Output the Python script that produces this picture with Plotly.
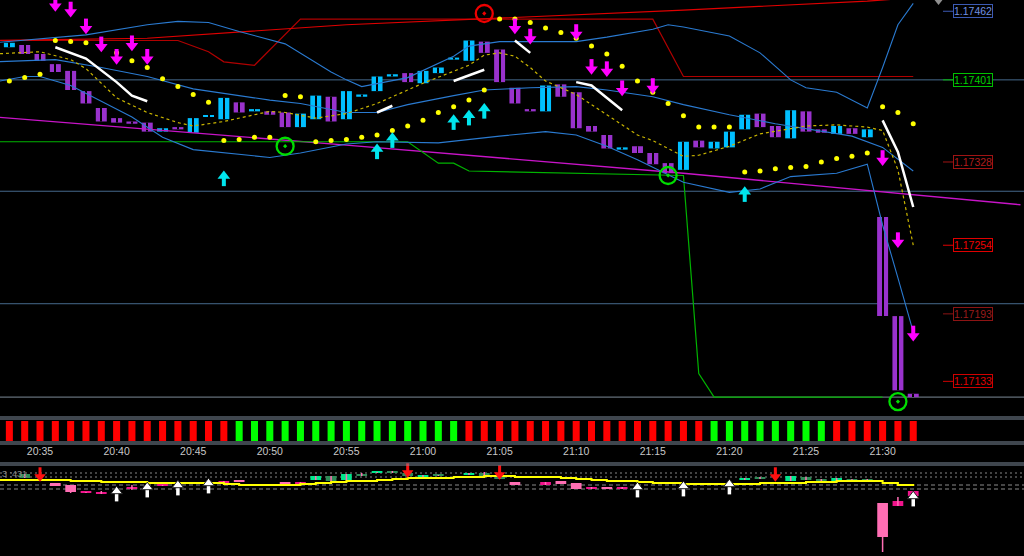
import plotly.graph_objects as go
import pandas as pd

DAY = "2024-01-01 "

# ---------------- main price panel data ----------------
candle_times = [str(t) for t in pd.date_range(DAY + "20:33", periods=60, freq="1min")]
opens = [1.17430, 1.17432, 1.17424, 1.17415, 1.17409, 1.17391, 1.17376, 1.17367, 1.17364, 1.17363,
         1.17355, 1.17359, 1.17354, 1.17368, 1.17366, 1.17381, 1.17373, 1.17373, 1.17372, 1.17359,
         1.17366, 1.17386, 1.17366, 1.17386, 1.17391, 1.17404, 1.17407, 1.17398, 1.17407, 1.17419,
         1.17418, 1.17435, 1.17428, 1.17394, 1.17375, 1.17373, 1.17397, 1.17390, 1.17360, 1.17352,
         1.17339, 1.17342, 1.17336, 1.17327, 1.17321, 1.17347, 1.17340, 1.17341, 1.17357, 1.17371,
         1.17360, 1.17349, 1.17373, 1.17357, 1.17353, 1.17358, 1.17350, 1.17279, 1.17191, 1.17122]
closes = [1.17434, 1.17424, 1.17418, 1.17408, 1.17392, 1.17380, 1.17364, 1.17363, 1.17362, 1.17355,
          1.17358, 1.17357, 1.17367, 1.17369, 1.17385, 1.17372, 1.17375, 1.17370, 1.17359, 1.17371,
          1.17387, 1.17364, 1.17391, 1.17388, 1.17404, 1.17406, 1.17399, 1.17409, 1.17412, 1.17420,
          1.17436, 1.17425, 1.17399, 1.17380, 1.17373, 1.17396, 1.17386, 1.17358, 1.17355, 1.17340,
          1.17341, 1.17336, 1.17326, 1.17318, 1.17346, 1.17341, 1.17346, 1.17355, 1.17370, 1.17359,
          1.17350, 1.17374, 1.17355, 1.17354, 1.17360, 1.17353, 1.17357, 1.17191, 1.17125, 1.17119]
sar = [1.17400, 1.17403, 1.17406, 1.17436, 1.17435, 1.17434, 1.17430, 1.17425, 1.17418, 1.17412,
       1.17402, 1.17395, 1.17388, 1.17381, 1.17347, 1.17348, 1.17350, 1.17350, 1.17387, 1.17386,
       1.17346, 1.17347, 1.17348, 1.17350, 1.17352, 1.17356, 1.17360, 1.17365, 1.17372, 1.17377,
       1.17383, 1.17392, 1.17455, 1.17455, 1.17452, 1.17447, 1.17443, 1.17438, 1.17431, 1.17424,
       1.17413, 1.17400, 1.17390, 1.17380, 1.17369, 1.17359, 1.17359, 1.17359, 1.17319, 1.17320,
       1.17322, 1.17323, 1.17324, 1.17328, 1.17331, 1.17333, 1.17336, 1.17377, 1.17372, 1.17362]

upper_t = ["20:32", "20:38", "20:42", "20:44", "20:46", "20:48", "20:51", "20:54", "20:55", "20:56",
           "20:59", "21:02", "21:03", "21:05", "21:10", "21:12", "21:15", "21:16", "21:17", "21:20",
           "21:22", "21:24", "21:25", "21:27", "21:29", "21:30", "21:31", "21:32"]
upper_v = [1.17434, 1.17441, 1.17450, 1.17453, 1.17452, 1.17444, 1.17433, 1.17408, 1.17401, 1.17395,
           1.17403, 1.17422, 1.17431, 1.17435, 1.17435, 1.17439, 1.17446, 1.17450, 1.17448, 1.17440,
           1.17425, 1.17401, 1.17394, 1.17390, 1.17376, 1.17412, 1.17450, 1.17469]
middle_t = ["20:32", "20:36", "20:39", "20:42", "20:45", "20:50", "20:52", "20:55", "20:57", "20:59",
            "21:02", "21:04", "21:07", "21:10", "21:12", "21:15", "21:17", "21:20", "21:23", "21:26",
            "21:28", "21:30", "21:32"]
middle_v = [1.17417, 1.17419, 1.17412, 1.17404, 1.17393, 1.17383, 1.17380, 1.17372, 1.17372, 1.17379,
            1.17387, 1.17392, 1.17394, 1.17395, 1.17392, 1.17386, 1.17379, 1.17370, 1.17362, 1.17355,
            1.17351, 1.17341, 1.17320]
lower_t = ["20:32", "20:34", "20:35", "20:37", "20:41", "20:43", "20:45", "20:50", "20:52", "20:55",
           "20:57", "21:01", "21:05", "21:08", "21:10", "21:12", "21:14", "21:16", "21:17", "21:20",
           "21:22", "21:24", "21:27", "21:29", "21:30", "21:31", "21:32"]
lower_v = [1.17399, 1.17404, 1.17404, 1.17396, 1.17368, 1.17350, 1.17339, 1.17332, 1.17336, 1.17344,
           1.17346, 1.17345, 1.17351, 1.17355, 1.17352, 1.17342, 1.17330, 1.17317, 1.17310, 1.17301,
           1.17304, 1.17315, 1.17318, 1.17326, 1.17272, 1.17225, 1.17177]
ma_t = ["20:32", "20:35", "20:37", "20:38", "20:40", "20:42", "20:44", "20:45", "20:47", "20:50",
        "20:51", "20:53", "20:55", "20:57", "21:00", "21:03", "21:04", "21:05", "21:06", "21:07",
        "21:08", "21:10", "21:12", "21:14", "21:15", "21:16", "21:17", "21:18", "21:20", "21:22",
        "21:24", "21:25", "21:27", "21:29", "21:30", "21:31", "21:32"]
ma_v = [1.17424, 1.17426, 1.17419, 1.17411, 1.17385, 1.17372, 1.17363, 1.17360, 1.17364, 1.17373,
        1.17372, 1.17367, 1.17371, 1.17380, 1.17398, 1.17414, 1.17423, 1.17425, 1.17422, 1.17412,
        1.17400, 1.17388, 1.17370, 1.17352, 1.17347, 1.17340, 1.17333, 1.17334, 1.17342, 1.17353,
        1.17358, 1.17360, 1.17361, 1.17359, 1.17356, 1.17321, 1.17254]
red_hi_t = ["20:32", "20:42", "20:55", "21:17", "21:29", "21:32"]
red_hi_v = [1.17436, 1.17438, 1.17450, 1.17463, 1.17471, 1.17474]
red_lo_t = ["20:32", "20:44", "20:46", "20:47", "20:49", "20:52", "21:15", "21:17", "21:32"]
red_lo_v = [1.17436, 1.17436, 1.17426, 1.17417, 1.17414, 1.17455, 1.17455, 1.17404, 1.17404]
green_t = ["20:32", "20:59", "21:01", "21:02", "21:03", "21:17", "21:18", "21:19", "21:30"]
green_v = [1.17346, 1.17346, 1.17327, 1.17327, 1.17320, 1.17316, 1.17140, 1.17119, 1.17119]
trend_t = ["20:32", "20:55", "21:17", "21:39"]
trend_v = [1.17368, 1.17343, 1.17318, 1.17290]
white_segments = [
    (["20:36", "20:38", "20:40", "20:41", "20:42"], [1.17430, 1.17420, 1.17399, 1.17387, 1.17382]),
    (["20:57", "20:58"], [1.17372, 1.17378]),
    (["21:02", "21:04"], [1.17400, 1.17410]),
    (["21:06", "21:07"], [1.17436, 1.17425]),
    (["21:10", "21:11", "21:13"], [1.17399, 1.17396, 1.17374]),
    (["21:30", "21:31", "21:32"], [1.17365, 1.17337, 1.17288]),
]
down_arrow_t = ["20:36", "20:37", "20:38", "20:39", "20:40", "20:41", "20:42", "21:06", "21:07", "21:10",
                "21:11", "21:12", "21:13", "21:15", "21:30", "21:31", "21:32"]
down_arrow_v = [1.17468, 1.17463, 1.17448, 1.17432, 1.17421, 1.17433, 1.17421, 1.17448, 1.17439, 1.17443,
                1.17412, 1.17410, 1.17393, 1.17395, 1.17331, 1.17258, 1.17175]
up_arrow_t = ["20:47", "20:57", "20:58", "21:02", "21:03", "21:04", "21:21"]
up_arrow_v = [1.17314, 1.17338, 1.17348, 1.17364, 1.17368, 1.17374, 1.17300]
green_circle_t = ["20:51", "21:16", "21:31"]
green_circle_v = [1.17342, 1.17316, 1.17115]
red_circle_t = ["21:04"]
red_circle_v = [1.17460]
grid_levels = [1.17401, 1.17302, 1.17202]
bid_level = 1.17119
label_prices = [1.17462, 1.17401, 1.17328, 1.17254, 1.17193, 1.17133]
label_text_colors = ["#7090e0", "#00d000", "#b01c1c", "#f00000", "#9a1c1c", "#e00000"]
label_border_colors = ["#3c5ab4", "#00c000", "#a01414", "#e00000", "#8c1414", "#d00000"]

# ---------------- trend strip ----------------
strip_state = list("RRRRRRRRRRRRRRR" + "GGGGGGGGGGGGGGG" + "RRRRRRRRRRRRRRRR" + "GGGGGGGG" + "RRRRRR")

# ---------------- time labels ----------------
time_ticks = ["20:35", "20:40", "20:45", "20:50", "20:55", "21:00", "21:05",
              "21:10", "21:15", "21:20", "21:25", "21:30"]

# ---------------- oscillator panel ----------------
osc_t = ["20:34", "20:36", "20:37", "20:38", "20:39", "20:41", "20:43", "20:47", "20:48", "20:51",
         "20:52", "20:53", "20:54", "20:55", "20:56", "20:57", "20:58", "20:59", "21:00", "21:01",
         "21:03", "21:04", "21:05", "21:06", "21:08", "21:09", "21:10", "21:11", "21:12", "21:13",
         "21:21", "21:22", "21:24", "21:25", "21:26", "21:27", "21:28", "21:29", "21:30", "21:31",
         "21:32"]
osc_open = [2, -3, -5, -12, -13, -7, -5, -1, -1, -2, -2, 0, -1, 0, 4, 7, 7, 4, 3, 4,
            5, 4, 1, -2, -2, -1, -3, -7, -8, -7, 0, 1, -1, 0, -1, -1, -1, -1, -23, -21, -11]
osc_close = [6, -6, -12, -13, -14, -9, -6, -3, -2, -4, -4, 4, 4, 6, 6, 8, 8, 7, 5, 5,
             7, 7, 3, -5, -5, -4, -9, -9, -9, -9, 2, 3, 4, 3, 1, 2, 1, 1, -57, -26, -16]
osc_high = [6, -3, -5, -12, -11, -5, -5, -1, -1, -2, -2, 4, 4, 6, 7, 8, 9, 7, 5, 5,
            7, 8, 3, -2, -2, -1, -3, -7, -8, -7, 2, 3, 4, 3, 1, 2, 1, 1, -23, -17, -11]
osc_low = [2, -6, -13, -13, -14, -10, -6, -3, -2, -4, -4, 0, -1, 0, 4, 7, 7, 4, 3, 4,
           5, 4, 1, -5, -5, -4, -9, -9, -9, -9, 0, 1, -1, 0, -1, -1, -1, -1, -72, -26, -16]
osc_bright = [0, 1, 1, 0, 0, 0, 0, 0, 1, 1, 0, 1, 0, 1, 0, 1, 0, 0, 1, 0,
              1, 0, 0, 1, 0, 1, 1, 0, 1, 0, 1, 0, 1, 0, 0, 1, 0, 0, 1, 0, 0]
osc_ma_t = ["20:32", "20:37", "20:39", "20:42", "20:47", "20:48", "20:52", "20:53", "20:54", "20:55",
            "20:57", "20:58", "20:59", "21:02", "21:04", "21:06", "21:09", "21:10", "21:11", "21:12",
            "21:14", "21:15", "21:17", "21:22", "21:25", "21:27", "21:30", "21:31", "21:32"]
osc_ma_v = [0, -1, -2, -3, -4, -5, -4, -3, -2, -1, 0, 1, 2, 3, 4, 3, 2, 1, 0, -1,
            -2, -3, -4, -3, -2, -1, -3, -5, -6]
osc_up_t = ["20:40", "20:42", "20:44", "20:46", "21:14", "21:17", "21:20", "21:32"]
osc_up_v = [-13, -9, -7, -5, -9, -8, -6, -18]
osc_dn_t = ["20:35", "20:59", "21:05", "21:23"]
osc_dn_v = [5, 9, 7, 5]
osc_levels_dot = [7, 3]
osc_levels_dash = [-5, -9]


def tt(lst):
    return [DAY + s for s in lst]


W, H = 1024, 556
Y_MIN, Y_MAX = 1.171022, 1.17472
MAIN_PX = 416
PRICE_PER_PX = (Y_MAX - Y_MIN) / MAIN_PX
OSC_PER_PX = 1.0


def py(pix):  # pixel row -> paper fraction
    return 1 - pix / H


BLUE = "#2a7ad0"
fig = go.Figure()


def add_arrows(xs, vs, color, down, unit, xa, ya, head=11, stem=7, stem_w=4, outline=None):
    sgn = -1 if down else 1
    head_y = [v + sgn * 1.8 * unit for v in vs]
    stem_y = [v - sgn * 3.5 * unit for v in vs]
    fig.add_trace(go.Scatter(x=xs, y=stem_y, mode="markers", xaxis=xa, yaxis=ya, cliponaxis=False,
                             marker=dict(symbol="line-ns", size=stem,
                                         line=dict(color=color, width=stem_w))))
    fig.add_trace(go.Scatter(x=xs, y=head_y, mode="markers", xaxis=xa, yaxis=ya, cliponaxis=False,
                             marker=dict(symbol="triangle-down" if down else "triangle-up", size=head,
                                         color=color,
                                         line=dict(color=outline or color, width=1 if outline else 0))))


# candles (main)
base = [min(o, c) for o, c in zip(opens, closes)]
hgt = [max(abs(c - o), 0.000018) for o, c in zip(opens, closes)]
ccol = ["#00bfff" if c >= o else "#9932cc" for o, c in zip(opens, closes)]
fig.add_trace(go.Bar(x=candle_times, y=hgt, base=base, width=43000,
                     marker=dict(color=ccol, line=dict(width=0)), xaxis="x", yaxis="y"))
fig.add_trace(go.Bar(x=candle_times, y=hgt, base=base, width=3800,
                     marker=dict(color="black", line=dict(width=0)), xaxis="x", yaxis="y"))

# lines
fig.add_trace(go.Scatter(x=tt(trend_t), y=trend_v, mode="lines", line=dict(color="#c814c8", width=1.3)))
fig.add_trace(go.Scatter(x=tt(green_t), y=green_v, mode="lines", line=dict(color="#00b400", width=1.2)))
fig.add_trace(go.Scatter(x=tt(red_lo_t), y=red_lo_v, mode="lines", line=dict(color="#b00000", width=1.2)))
fig.add_trace(go.Scatter(x=tt(red_hi_t), y=red_hi_v, mode="lines", line=dict(color="#e00000", width=1.2)))
for tl, vl in [(upper_t, upper_v), (middle_t, middle_v), (lower_t, lower_v)]:
    fig.add_trace(go.Scatter(x=tt(tl), y=vl, mode="lines", line=dict(color=BLUE, width=1.1)))
fig.add_trace(go.Scatter(x=tt(ma_t), y=ma_v, mode="lines",
                         line=dict(color="#c8b400", width=1.2, dash="3px,3px")))
for tl, vl in white_segments:
    fig.add_trace(go.Scatter(x=tt(tl), y=vl, mode="lines", line=dict(color="white", width=2.5)))

# SAR dots
fig.add_trace(go.Scatter(x=candle_times, y=sar, mode="markers",
                         marker=dict(color="#ffff00", size=5, symbol="circle")))
# arrows
add_arrows(tt(down_arrow_t), down_arrow_v, "#ff00ff", True, PRICE_PER_PX, "x", "y")
add_arrows(tt(up_arrow_t), up_arrow_v, "#00e5ee", False, PRICE_PER_PX, "x", "y")
# circles
fig.add_trace(go.Scatter(x=tt(green_circle_t), y=green_circle_v, mode="markers",
                         marker=dict(symbol="circle-open-dot", size=17, color="#00dd00", line=dict(width=2.3))))
fig.add_trace(go.Scatter(x=tt(red_circle_t), y=red_circle_v, mode="markers",
                         marker=dict(symbol="circle-open-dot", size=17, color="#ee0000", line=dict(width=2.3))))
fig.add_trace(go.Scatter(x=[DAY + "21:33:39"], y=[1.17471], mode="markers",
                         marker=dict(symbol="triangle-down", size=8, color="#909090"), cliponaxis=False))

# strip
scol = ["#ff0000" if s == "R" else "#00ff00" for s in strip_state]
fig.add_trace(go.Bar(x=candle_times, y=[1] * len(strip_state), base=0, width=27500,
                     marker=dict(color=scol, line=dict(width=0)), xaxis="x2", yaxis="y2"))

# oscillator
obase = [min(o, c) for o, c in zip(osc_open, osc_close)]
ohgt = [max(abs(c - o), 1.3) for o, c in zip(osc_open, osc_close)]
ocol = []
for o, c, b in zip(osc_open, osc_close, osc_bright):
    if c >= o:
        ocol.append("#00e68c" if b else "#2e8b57")
    else:
        ocol.append("#ff6eb4" if b else "#f0148c")
wx, wy = [], []
for t, hi, lo in zip(osc_t, osc_high, osc_low):
    wx += [DAY + t, DAY + t, None]
    wy += [hi, lo, None]
fig.add_trace(go.Scatter(x=wx, y=wy, mode="lines", line=dict(color="#ff6eb4", width=1.5),
                         xaxis="x3", yaxis="y3"))
fig.add_trace(go.Bar(x=tt(osc_t), y=ohgt, base=obase, width=42000,
                     marker=dict(color=ocol, line=dict(width=0)), xaxis="x3", yaxis="y3"))
fig.add_trace(go.Scatter(x=tt(osc_ma_t), y=osc_ma_v, mode="lines", line=dict(color="#ffff00", width=2, shape="hv"),
                         xaxis="x3", yaxis="y3"))
add_arrows(tt(osc_up_t), osc_up_v, "white", False, OSC_PER_PX, "x3", "y3",
           head=10, stem=7, stem_w=3.5, outline="#202020")
add_arrows(tt(osc_dn_t), osc_dn_v, "#ff1010", True, OSC_PER_PX, "x3", "y3",
           head=10, stem=6, stem_w=3)

shapes = []
for lv in grid_levels:
    shapes.append(dict(type="line", xref="paper", yref="y", x0=0, x1=1, y0=lv, y1=lv,
                       line=dict(color="#46698c", width=1), layer="below"))
shapes.append(dict(type="line", xref="paper", yref="y", x0=0, x1=1, y0=bid_level, y1=bid_level,
                   line=dict(color="#7d8a98", width=1), layer="below"))
for pix in [417, 419, 442, 444, 463, 465]:
    shapes.append(dict(type="line", xref="paper", yref="paper", x0=0, x1=1, y0=py(pix), y1=py(pix),
                       line=dict(color="#7f8c9c", width=1)))
for lv in osc_levels_dot:
    shapes.append(dict(type="line", xref="paper", yref="y3", x0=0, x1=1, y0=lv, y1=lv,
                       line=dict(color="#5a5a5a", width=1.5, dash="2px,3px"), layer="below"))
for lv in osc_levels_dash:
    shapes.append(dict(type="line", xref="paper", yref="y3", x0=0, x1=1, y0=lv, y1=lv,
                       line=dict(color="#8a8a8a", width=1, dash="4px,3px"), layer="below"))

annotations = []
for p, tc, bc in zip(label_prices, label_text_colors, label_border_colors):
    shapes.append(dict(type="line", xref="paper", yref="y", x0=943 / W, x1=953 / W, y0=p, y1=p,
                       line=dict(color=bc, width=1)))
    annotations.append(dict(x=973 / W, xref="paper", y=p, yref="y", text=f"{p:.5f}", showarrow=False,
                            font=dict(family="Liberation Sans", size=10.5, color=tc),
                            bordercolor=bc, borderwidth=1, borderpad=0, bgcolor="black",
                            xanchor="center", yanchor="middle"))
annotations.append(dict(x=0, xref="paper", y=6, yref="y3", text="3 :431", showarrow=False,
                        font=dict(family="Liberation Sans", size=9, color="#8a8a8a"),
                        xanchor="left", yanchor="middle"))

xr = [DAY + "20:32:23.3", DAY + "21:39:13.8"]
ax_common = dict(type="date", range=xr, showgrid=False, zeroline=False, showline=False, fixedrange=True)
fig.update_layout(
    width=W, height=H, margin=dict(l=0, r=0, t=0, b=0),
    paper_bgcolor="black", plot_bgcolor="black", showlegend=False, barmode="overlay",
    hovermode=False,
    xaxis=dict(**ax_common, anchor="y", showticklabels=False),
    xaxis2=dict(**ax_common, anchor="y2", matches="x", showticklabels=True,
                tickvals=tt(time_ticks), ticktext=time_ticks, ticks="",
                tickfont=dict(family="Liberation Sans", size=10.5, color="#c8c8c8")),
    xaxis3=dict(**ax_common, anchor="y3", matches="x", showticklabels=False),
    yaxis=dict(domain=[py(MAIN_PX), 1], range=[Y_MIN, Y_MAX], showticklabels=False,
               showgrid=False, zeroline=False, fixedrange=True),
    yaxis2=dict(domain=[py(443), py(419)], range=[-0.1, 1.1], showticklabels=False,
                showgrid=False, zeroline=False, fixedrange=True),
    yaxis3=dict(domain=[0, py(466)], range=[-76, 14], showticklabels=False,
                showgrid=False, zeroline=False, fixedrange=True),
    shapes=shapes, annotations=annotations,
)
fig.write_html("out.html", config={"displayModeBar": False},
               post_script="document.body.style.margin='0px';document.body.style.overflow='hidden';"
                           "document.documentElement.style.background='black';")
